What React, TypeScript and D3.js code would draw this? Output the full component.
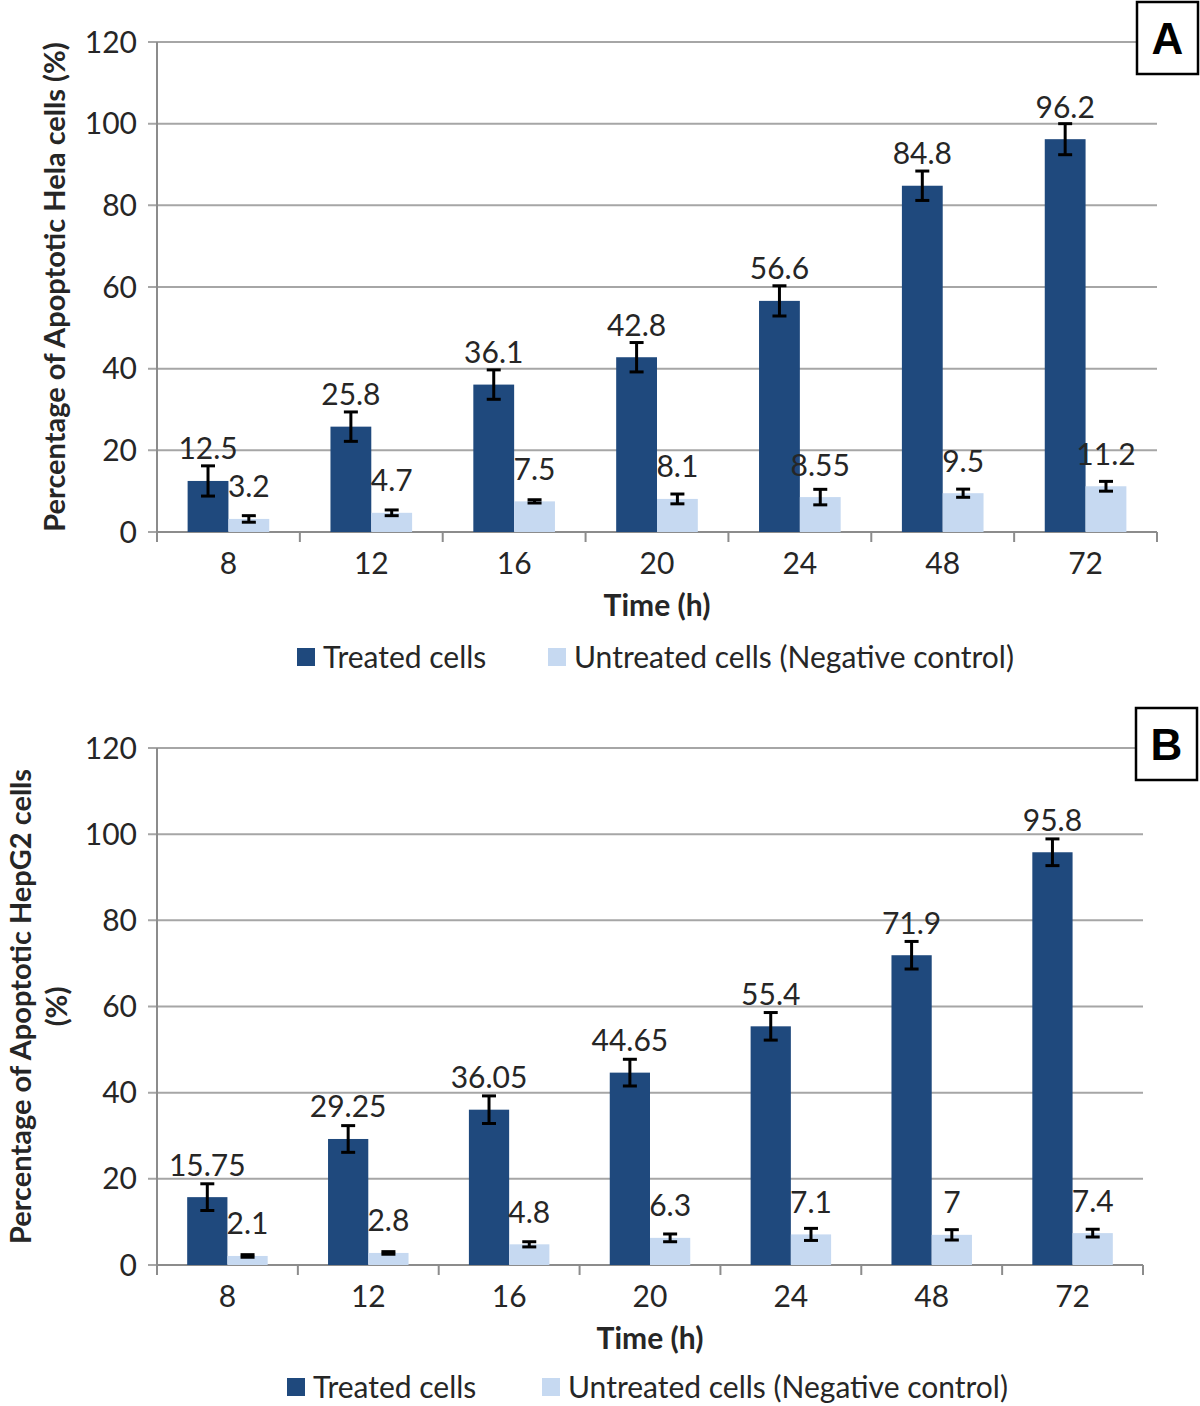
import React from "react";
import * as d3 from "d3";

const hours = ["8", "12", "16", "20", "24", "48", "72"];
const yTicks = [0, 20, 40, 60, 80, 100, 120];

// Panel A (Hela)
const helaTreated = [12.5, 25.8, 36.1, 42.8, 56.6, 84.8, 96.2];
const helaTreatedErr = [3.7, 3.6, 3.6, 3.6, 3.7, 3.6, 3.8];
const helaUntreated = [3.2, 4.7, 7.5, 8.1, 8.55, 9.5, 11.2];
const helaUntreatedErr = [0.8, 0.7, 0.4, 1.2, 1.9, 1.0, 1.2];
const helaLabelsTreated = ["12.5", "25.8", "36.1", "42.8", "56.6", "84.8", "96.2"];
const helaLabelsUntreated = ["3.2", "4.7", "7.5", "8.1", "8.55", "9.5", "11.2"];

// Panel B (HepG2)
const hepTreated = [15.75, 29.25, 36.05, 44.65, 55.4, 71.9, 95.8];
const hepTreatedErr = [3.1, 3.1, 3.2, 3.1, 3.2, 3.2, 3.1];
const hepUntreated = [2.1, 2.8, 4.8, 6.3, 7.1, 7, 7.4];
const hepUntreatedErr = [0.3, 0.3, 0.6, 0.9, 1.4, 1.2, 0.9];
const hepLabelsTreated = ["15.75", "29.25", "36.05", "44.65", "55.4", "71.9", "95.8"];
const hepLabelsUntreated = ["2.1", "2.8", "4.8", "6.3", "7.1", "7", "7.4"];

const seriesNames = ["Treated cells", "Untreated cells (Negative control)"];
const DARK = "#1f497d";
const LIGHT = "#c6d9f1";
const FONT = "Lato, 'Open Sans', sans-serif";
const TXT = "#262626";
const FS = 30;

function Panel({ left, right, top, bottom, treated, treatedErr, untreated, untreatedErr,
  labT, labU, titleLines, titleX, letter, boxX, boxY, legendY, legendX1, legendX2 }) {
  const x = d3.scaleBand().domain(hours).range([left, right]);
  const sub = d3.scaleBand().domain(["t", "u"]).range([0, x.bandwidth()]).paddingOuter(0.75);
  const y = d3.scaleLinear().domain([0, 120]).range([bottom, top]);
  const bw = sub.bandwidth();
  const series = [
    { key: "t", vals: treated, errs: treatedErr, labs: labT, color: DARK },
    { key: "u", vals: untreated, errs: untreatedErr, labs: labU, color: LIGHT },
  ];
  const midY = (top + bottom) / 2;
  return (
    <g>
      {yTicks.map(t => (
        <g key={t}>
          <line x1={left - 9} x2={right} y1={y(t)} y2={y(t)} stroke="#a6a6a6" strokeWidth={2} />
          <text x={left - 20} y={y(t)} dy="0.35em" textAnchor="end" fontSize={FS} fill={TXT} fontFamily={FONT}>{t}</text>
        </g>
      ))}
      <line x1={left} x2={left} y1={top} y2={bottom} stroke="#8c8c8c" strokeWidth={2} />
      <line x1={left} x2={right} y1={bottom} y2={bottom} stroke="#8c8c8c" strokeWidth={2} />
      {[...hours.map(h => x(h)), right].map((px, i) => (
        <line key={i} x1={px} x2={px} y1={bottom} y2={bottom + 10} stroke="#8c8c8c" strokeWidth={2} />
      ))}
      {hours.map(h => (
        <text key={h} x={x(h) + x.bandwidth() / 2} y={bottom + 31} dy="0.35em" textAnchor="middle" fontSize={FS} fill={TXT} fontFamily={FONT}>{h}</text>
      ))}
      {series.map(s => hours.map((h, i) => {
        const bx = x(h) + sub(s.key);
        const cx = bx + bw / 2;
        const v = s.vals[i];
        const e = s.errs[i];
        return (
          <g key={s.key + h}>
            <rect x={bx} y={y(v)} width={bw} height={y(0) - y(v)} fill={s.color} />
            <line x1={cx} x2={cx} y1={y(v + e)} y2={y(v - e)} stroke="#000" strokeWidth={3} />
            <line x1={cx - 7} x2={cx + 7} y1={y(v + e)} y2={y(v + e)} stroke="#000" strokeWidth={3} />
            <line x1={cx - 7} x2={cx + 7} y1={y(v - e)} y2={y(v - e)} stroke="#000" strokeWidth={3} />
            <text x={cx} y={y(v) - 32} dy="0.35em" textAnchor="middle" fontSize={FS} fill={TXT} fontFamily={FONT}>{s.labs[i]}</text>
          </g>
        );
      }))}
      <text x={(left + right) / 2} y={bottom + 73} dy="0.35em" textAnchor="middle" fontSize={FS} fontWeight="bold" fill={TXT} fontFamily={FONT}>Time (h)</text>
      {titleLines.map((tl, i) => (
        <text key={i} transform={`translate(${titleX[i]},${midY}) rotate(-90)`} dy="0.35em" textAnchor="middle" fontSize={FS - 1} fontWeight="bold" fill={TXT} fontFamily={FONT}>{tl}</text>
      ))}
      <rect x={boxX} y={boxY} width={61} height={72} fill="#fff" stroke="#000" strokeWidth={2.5} />
      <text x={boxX + 30.5} y={boxY + 37} dy="0.35em" textAnchor="middle" fontSize={44} fontWeight="bold" fontFamily="'Liberation Sans', Arial, sans-serif" fill="#000">{letter}</text>
      {[legendX1, legendX2].map((lx, i) => (
        <g key={i}>
          <rect x={lx} y={legendY - 9} width={18} height={18} fill={i === 0 ? DARK : LIGHT} />
          <text x={lx + 26} y={legendY} dy="0.35em" fontSize={FS} fill={TXT} fontFamily={FONT}>{seriesNames[i]}</text>
        </g>
      ))}
    </g>
  );
}

export default function App() {
  return (
    <svg width={1200} height={1406} style={{ position: "absolute", left: 0, top: 0, background: "#fff" }}>
      <rect width={1200} height={1406} fill="#fff" />
      <Panel left={157} right={1157} top={42} bottom={532}
        treated={helaTreated} treatedErr={helaTreatedErr} untreated={helaUntreated} untreatedErr={helaUntreatedErr}
        labT={helaLabelsTreated} labU={helaLabelsUntreated}
        titleLines={["Percentage of Apoptotic Hela cells (%)"]} titleX={[55]}
        letter="A" boxX={1137} boxY={2} legendY={657} legendX1={297} legendX2={548} />
      <Panel left={157} right={1143} top={748} bottom={1265}
        treated={hepTreated} treatedErr={hepTreatedErr} untreated={hepUntreated} untreatedErr={hepUntreatedErr}
        labT={hepLabelsTreated} labU={hepLabelsUntreated}
        titleLines={["Percentage of Apoptotic HepG2 cells", "(%)"]} titleX={[21, 57]}
        letter="B" boxX={1136} boxY={708} legendY={1387} legendX1={287} legendX2={542} />
    </svg>
  );
}
